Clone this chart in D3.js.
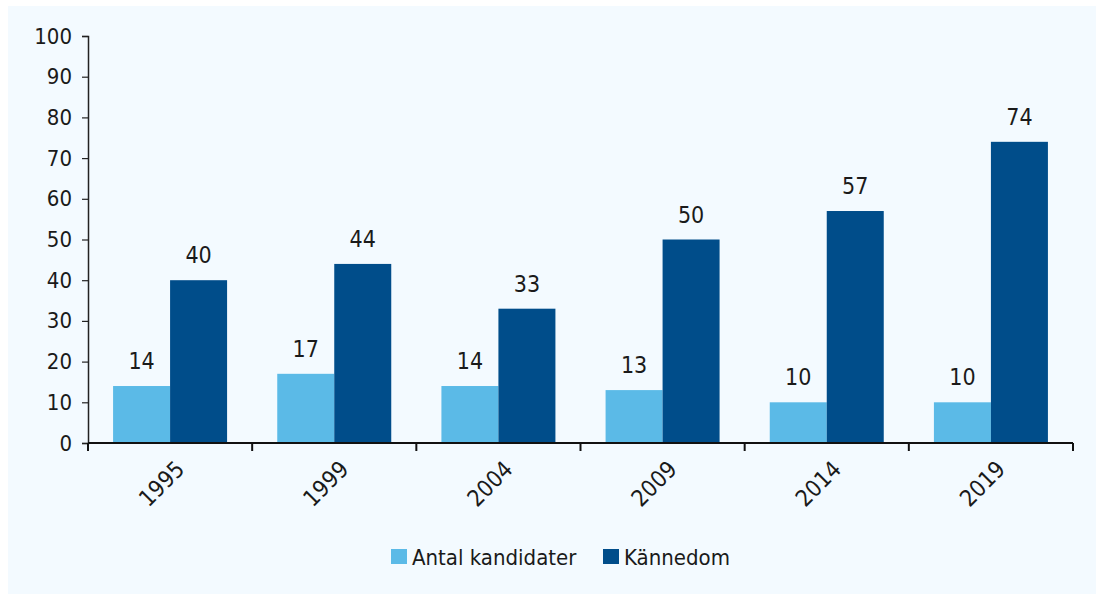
<!DOCTYPE html>
<html>
<head>
<meta charset="utf-8">
<title>Antal kandidater och kännedom</title>
<script src="https://d3js.org/d3.v7.min.js"></script>
<style>
  body { margin: 0; background: #fff; }
  text { font-family: "Liberation Sans Narrow", "DejaVu Sans Condensed", "Open Sans", sans-serif; fill: #1a1a1a; }
</style>
</head>
<body>
<svg width="1096" height="594"></svg>
<script>
// data
var years = ["1995", "1999", "2004", "2009", "2014", "2019"];
var antalKandidater = [14, 17, 14, 13, 10, 10];
var kannedom = [40, 44, 33, 50, 57, 74];
var seriesNames = ["Antal kandidater", "Kännedom"];
var seriesColors = ["#5bbae7", "#004d8a"];
var yTicks = [0, 10, 20, 30, 40, 50, 60, 70, 80, 90, 100];

var svg = d3.select("svg");

// light panel behind everything
svg.append("rect")
    .attr("x", 8).attr("y", 6)
    .attr("width", 1088).attr("height", 588)
    .attr("fill", "#f3faff");

var margin = {left: 88, right: 23, top: 36, bottom: 151};
var width = 1096 - margin.left - margin.right,
    height = 594 - margin.top - margin.bottom;

var g = svg.append("g")
    .attr("transform", "translate(" + margin.left + "," + margin.top + ")");

var x = d3.scaleBand().domain(years).range([0, width]).paddingInner(0).paddingOuter(0);
var inner = d3.scaleBand().domain(seriesNames).range([0, 114])
var y = d3.scaleLinear().domain([0, 100]).range([height, 0]);

var rows = years.map(function(yr, i) {
  return {year: yr, values: [antalKandidater[i], kannedom[i]]};
});

// bars
var grp = g.selectAll(".grp")
    .data(rows)
  .enter().append("g")
    .attr("class", "grp")
    .attr("transform", function(d) {
      return "translate(" + (x(d.year) + (x.bandwidth() - 114) / 2) + ",0)";
    });

grp.selectAll("rect")
    .data(function(d) { return d.values.map(function(v, j) { return {name: seriesNames[j], value: v, j: j}; }); })
  .enter().append("rect")
    .attr("x", function(d) { return inner(d.name); })
    .attr("width", inner.bandwidth())
    .attr("y", function(d) { return y(d.value); })
    .attr("height", function(d) { return height - y(d.value); })
    .attr("fill", function(d) { return seriesColors[d.j]; });

grp.selectAll(".lbl")
    .data(function(d) { return d.values.map(function(v, j) { return {name: seriesNames[j], value: v}; }); })
  .enter().append("text")
    .attr("class", "lbl")
    .attr("x", function(d) { return inner(d.name) + inner.bandwidth() / 2; })
    .attr("y", function(d) { return y(d.value) - 17; })
    .attr("text-anchor", "middle")
    .style("font-size", "23px")
    .text(function(d) { return d.value; });

// y axis
var yAxis = g.append("g")
    .call(d3.axisLeft(y).tickValues(yTicks).tickSize(6).tickPadding(10));
yAxis.select(".domain").attr("stroke", "#222").attr("stroke-width", 1.5);
yAxis.selectAll(".tick line").attr("stroke", "#222").attr("stroke-width", 1.2);
yAxis.selectAll("text").style("font-size", "22px").attr("fill", "#1a1a1a");

// x axis: ticks at category boundaries
var bounds = years.map(function(yr) { return x(yr); }).concat([width]);
var xAx = g.append("g").attr("transform", "translate(0," + height + ")");
xAx.append("line")
    .attr("x1", 0).attr("x2", width)
    .attr("stroke", "#111").attr("stroke-width", 2);
xAx.selectAll(".xt")
    .data(bounds)
  .enter().append("line")
    .attr("x1", function(d) { return d; }).attr("x2", function(d) { return d; })
    .attr("y1", 0).attr("y2", 8)
    .attr("stroke", "#111").attr("stroke-width", 2);
xAx.selectAll(".xl")
    .data(years)
  .enter().append("text")
    .attr("transform", function(d) {
      return "translate(" + (x(d) + x.bandwidth() / 2 + 10) + ",22) rotate(-45)";
    })
    .attr("text-anchor", "end")
    .attr("dy", "0.35em")
    .style("font-size", "23px")
    .text(function(d) { return d; });

// legend
var legend = svg.append("g").attr("transform", "translate(391,549)");
var legX = [0, 212];
seriesNames.forEach(function(name, i) {
  var it = legend.append("g").attr("transform", "translate(" + legX[i] + ",0)");
  it.append("rect").attr("width", 16).attr("height", 15).attr("fill", seriesColors[i]);
  it.append("text").attr("x", 21).attr("y", 8).attr("dy", "0.35em")
    .style("font-size", "22px").text(name);
});
</script>
</body>
</html>
